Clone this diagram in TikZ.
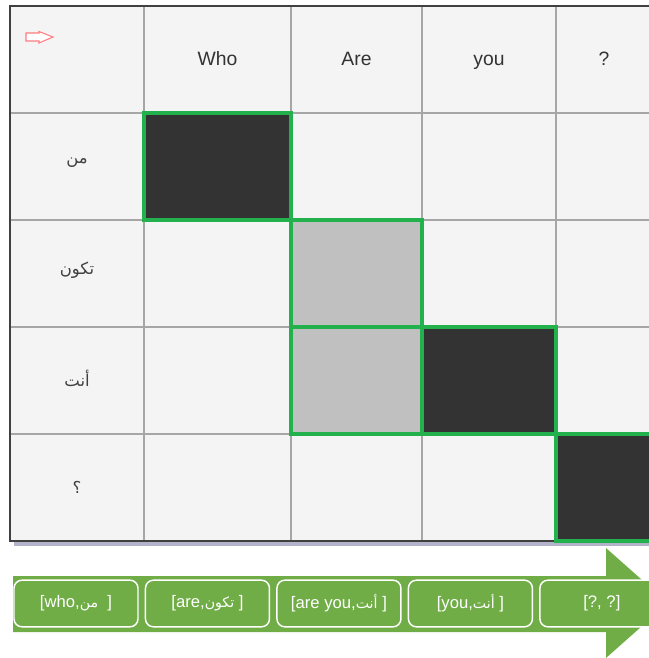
\documentclass[tikz,border=0pt]{standalone}
\usepackage{fontspec}
\setmainfont{Liberation Sans}
\newfontfamily\arabicfont[Script=Arabic,Scale=0.85]{DejaVu Sans}
\TeXXeTstate=1
\usetikzlibrary{positioning}
\definecolor{cellgray}{HTML}{F4F4F4}
\definecolor{gridline}{HTML}{A6A6A6}
\definecolor{frameline}{HTML}{404040}
\definecolor{hilite}{HTML}{22B14C}
\definecolor{darkcell}{HTML}{333333}
\definecolor{lightcell}{HTML}{C0C0C0}
\definecolor{arrowgreen}{HTML}{70AD47}
\definecolor{pointer}{HTML}{FF7C80}
\newcommand{\artext}[1]{{\arabicfont\beginR #1\endR}}
\tikzset{
  headtext/.style={font=\fontsize{14.5}{17}\selectfont, text=black!80, anchor=base},
  rowtext/.style={font=\fontsize{14.5}{17}\selectfont, text=black!75},
  pairbox/.style={draw=white, line width=1.1pt, rounded corners=6pt, fill=arrowgreen, text=white, minimum width=93pt, minimum height=35pt, inner sep=0pt, font=\fontsize{12.5}{15}\selectfont},
  hicell/.style={draw=hilite, line width=2.4pt}
}

\begin{document}
\begin{tikzpicture}[x=0.75pt, y=-0.75pt]
  \useasboundingbox (0,0) rectangle (649,658);
  \begin{scope}
    \clip (0,0) rectangle (649,658);
    % table
    \fill[blue!30!black!30] (14,541) rectangle (700,546);
    \fill[cellgray] (10,6) rectangle (700,541);
    \foreach \x in {144,291,422,556}
      \draw[gridline, line width=1.2pt] (\x,6) -- (\x,541);
    \foreach \y in {113,220,327,434}
      \draw[gridline, line width=1.2pt] (10,\y) -- (700,\y);
    \draw[frameline, line width=1.5pt] (700,6) -- (10,6) -- (10,541) -- (700,541);
    % alignment cells
    \filldraw[hicell, fill=darkcell] (144,113) rectangle (291,220);
    \filldraw[hicell, fill=lightcell] (291,220) rectangle (422,327);
    \filldraw[hicell, fill=lightcell] (291,327) rectangle (422,434);
    \filldraw[hicell, fill=darkcell] (422,327) rectangle (556,434);
    \filldraw[hicell, fill=darkcell] (556,434) rectangle (700,541);
    \draw[pointer, line width=0.8pt, fill=white] (26,33) -- (39,33) -- (39,31.5) -- (53,37) -- (39,43) -- (39,41) -- (26,41) -- cycle;

    \node[headtext] (hwho) at (217.5,65) {Who};
    \node[headtext] (hare) at (356.5,65) {Are};
    \node[headtext] (hyou) at (489,65) {you};
    \node[headtext] (hq) at (604,65) {?};
    \node[rowtext] (rmin) at (77,163) {\artext{من}};
    \node[rowtext] (rtakun) at (77,270) {\artext{تكون}};
    \node[rowtext] (rant) at (77,378) {\artext{أنت}};
    \node[rowtext] (rq) at (77,487) {\artext{؟}};

    % pairs
    \fill[arrowgreen] (13,576) -- (606,576) -- (606,548) -- (668,603) -- (606,658) -- (606,632) -- (13,632) -- cycle;
    \node[pairbox] (p1) at (76,603.5) {[who,\artext{من}\ \ ]};
    \node[pairbox, right=4.5pt of p1] (p2) {[are,\artext{تكون}\ ]};
    \node[pairbox, right=4.5pt of p2] (p3) {[are you,\artext{أنت}\ ]};
    \node[pairbox, right=4.5pt of p3] (p4) {[you,\artext{أنت}\ ]};
    \node[pairbox, right=4.5pt of p4] (p5) {[?, ?]};
  \end{scope}
\end{tikzpicture}
\end{document}
